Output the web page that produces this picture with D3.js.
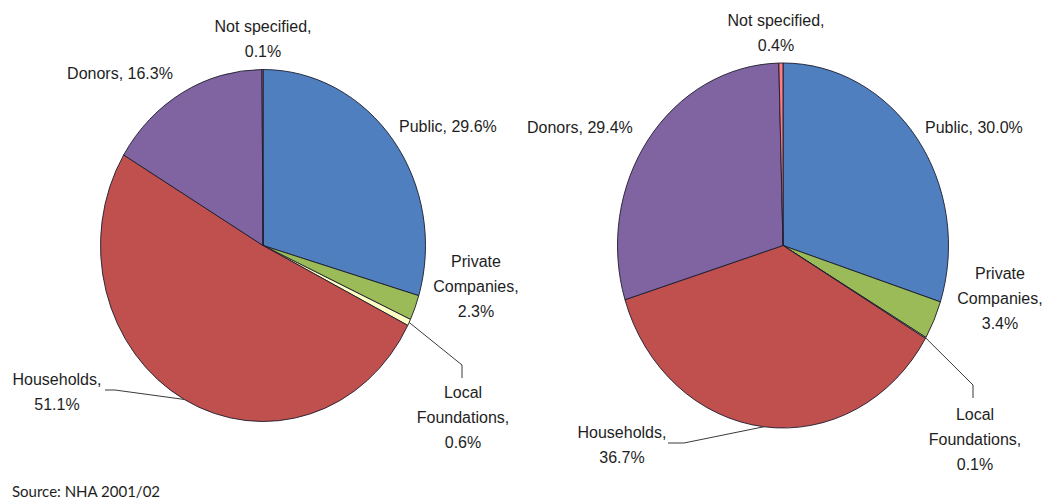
<!DOCTYPE html>
<html>
<head>
<meta charset="utf-8">
<script src="https://cdn.jsdelivr.net/npm/d3@7"></script>
<style>
  html, body { margin: 0; padding: 0; background: #fff; }
  svg { display: block; }
  text { font-family: "Liberation Sans", Arial, sans-serif; font-size: 16px; fill: #1e1e1e; }
  .source { font-family: Lato, "Open Sans", sans-serif; font-size: 15px; fill: #1e1e1e; }
</style>
</head>
<body>
<svg id="chart" width="1047" height="500"></svg>
<script>
// Health financing sources, share of total (%)
const categories = ["Public", "Private Companies", "Local Foundations", "Households", "Donors", "Not specified"];
const sharesA = [29.6, 2.3, 0.6, 51.1, 16.3, 0.1];
const sharesB = [30.0, 3.4, 0.1, 36.7, 29.4, 0.4];
const sourceNote = "Source: NHA 2001/02";

const colors = d3.scaleOrdinal()
  .domain(categories)
  .range(["#4f7fbf", "#9bbb59", "#ffffc4", "#c0504d", "#8064a2", "#ff7c80"]);

// Label lines for each category (name on first line(s), value last)
const labelLines = {
  "Public": v => ["Public, " + v.toFixed(1) + "%"],
  "Private Companies": v => ["Private", "Companies,", v.toFixed(1) + "%"],
  "Local Foundations": v => ["Local", "Foundations,", v.toFixed(1) + "%"],
  "Households": v => ["Households,", v.toFixed(1) + "%"],
  "Donors": v => ["Donors, " + v.toFixed(1) + "%"],
  "Not specified": v => ["Not specified,", v.toFixed(1) + "%"]
};

// Layout of each pie: centre, radii and label placement
const pies = [
  {
    values: sharesA, cx: 263, cy: 245.5, rx: 162.5, ry: 176,
    labels: {
      "Not specified": { x: 263, y: 32, anchor: "middle" },
      "Donors": { x: 120, y: 79, anchor: "middle" },
      "Public": { x: 399, y: 132, anchor: "start" },
      "Private Companies": { x: 476, y: 267, anchor: "middle" },
      "Local Foundations": { x: 463, y: 398, anchor: "middle", leader: [[462, 365], [462, 378]] },
      "Households": { x: 57, y: 385, anchor: "middle", leader: [[115, 390], [105, 390]] }
    }
  },
  {
    values: sharesB, cx: 783, cy: 245.5, rx: 165.5, ry: 182.5,
    labels: {
      "Not specified": { x: 776, y: 26, anchor: "middle" },
      "Donors": { x: 527, y: 133, anchor: "start" },
      "Public": { x: 925, y: 133, anchor: "start" },
      "Private Companies": { x: 1000, y: 279, anchor: "middle" },
      "Local Foundations": { x: 975, y: 420, anchor: "middle", leader: [[973, 385], [973, 398]] },
      "Households": { x: 622, y: 438, anchor: "middle", leader: [[684, 443], [668, 443]] }
    }
  }
];

const svg = d3.select("#chart");
svg.append("rect").attr("width", 1047).attr("height", 500).attr("fill", "#fff");

const pie = d3.pie().sort(null).value(d => d.value);
const lineHeight = 25;

pies.forEach(p => {
  const data = categories.map((c, i) => ({ category: c, value: p.values[i] }));
  const arcs = pie(data);
  const arc = d3.arc().innerRadius(0).outerRadius(p.rx);

  const g = svg.append("g")
    .attr("transform", `translate(${p.cx},${p.cy}) scale(1,${p.ry / p.rx})`);

  g.selectAll("path")
    .data(arcs)
    .join("path")
    .attr("d", arc)
    .attr("fill", d => colors(d.data.category))
    .attr("stroke", "#1c1c2c")
    .attr("stroke-width", 0.9)
    .attr("stroke-linejoin", "round")
    .attr("vector-effect", "non-scaling-stroke");

  // Leader lines from the middle of the slice edge to the label
  arcs.forEach(d => {
    const lab = p.labels[d.data.category];
    if (!lab.leader) return;
    const a = (d.startAngle + d.endAngle) / 2;
    const start = [p.cx + p.rx * Math.sin(a), p.cy - p.ry * Math.cos(a)];
    svg.append("path")
      .attr("d", d3.line()([start, ...lab.leader]))
      .attr("fill", "none")
      .attr("stroke", "#3a3a3a")
      .attr("stroke-width", 1);
  });

  // Category labels
  arcs.forEach(d => {
    const lab = p.labels[d.data.category];
    const lines = labelLines[d.data.category](d.data.value);
    const t = svg.append("text")
      .attr("text-anchor", lab.anchor)
      .attr("x", lab.x)
      .attr("y", lab.y);
    lines.forEach((ln, i) => {
      t.append("tspan")
        .attr("x", lab.x)
        .attr("y", lab.y + i * lineHeight)
        .text(ln);
    });
  });
});

svg.append("text")
  .attr("class", "source")
  .attr("x", 12)
  .attr("y", 497)
  .text(sourceNote);
</script>
</body>
</html>
